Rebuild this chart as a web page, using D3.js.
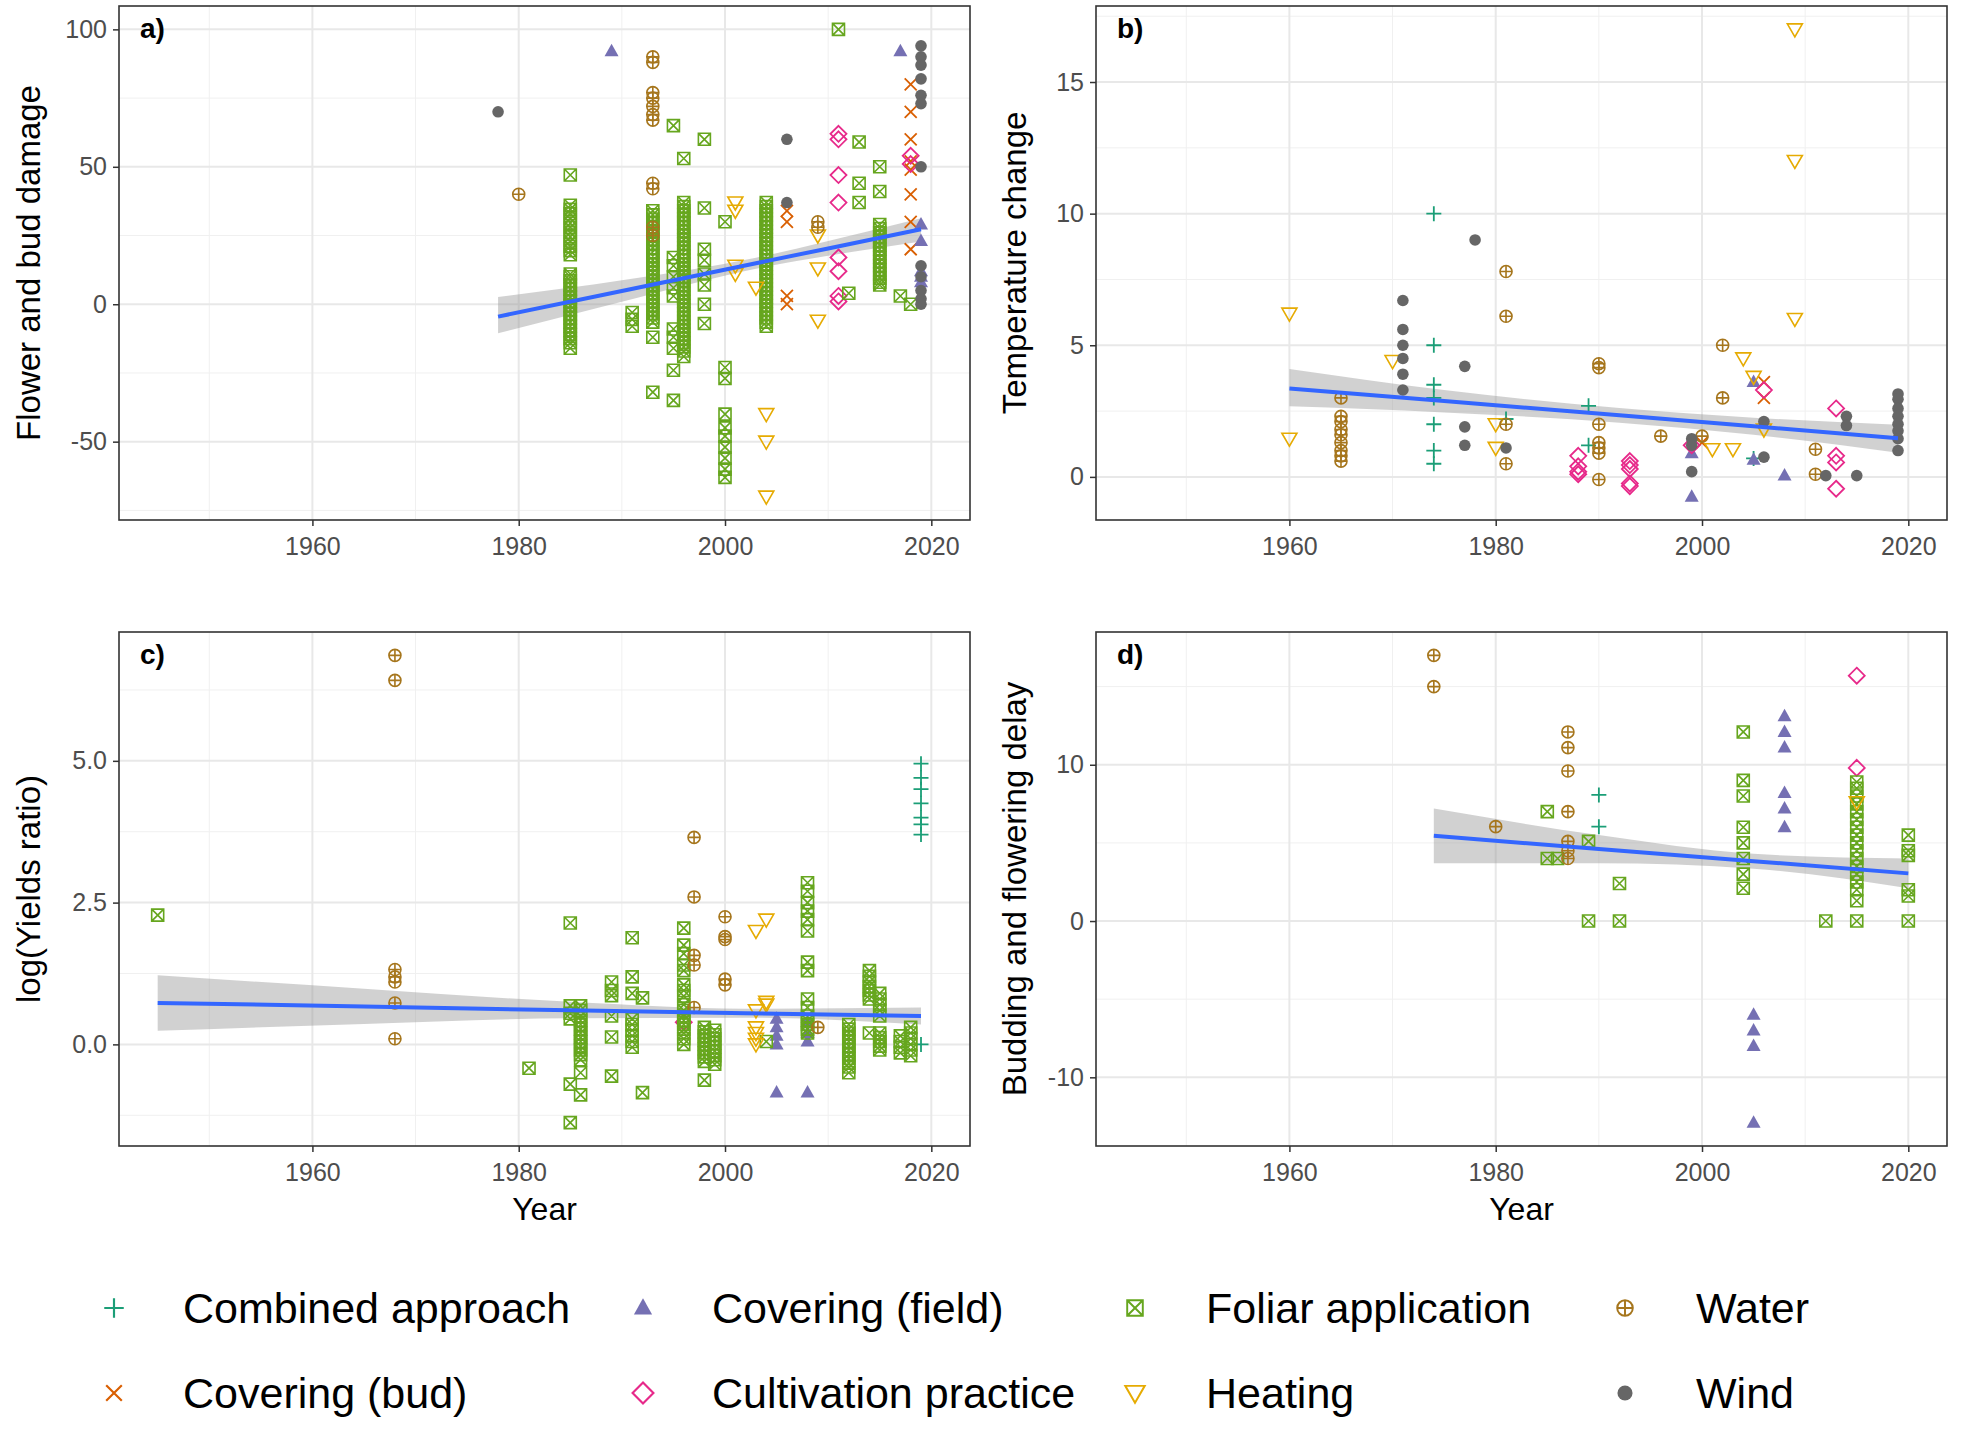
<!DOCTYPE html>
<html><head><meta charset="utf-8">
<script src="https://cdn.jsdelivr.net/npm/d3@7"></script>
<style>
body{margin:0;background:#fff}
svg{display:block}
text{font-family:"Liberation Sans",Arial,Helvetica,sans-serif}
</style>
</head><body>
<svg id="chart" width="1963" height="1433"></svg>
<script>
// ---------- helper for data packaging ----------
function col(year, values){ return values.map(v => [year, v]); }

// ---------- categories / styles ----------
const categories = ["Combined approach","Covering (bud)","Covering (field)","Cultivation practice","Foliar application","Heating","Water","Wind"];
const colors = ["#1b9e77","#d95f02","#7570b3","#e7298a","#66a61e","#e6ab02","#a6761d","#666666"];
const shapes = ["plus","cross","triangle","diamond","squarex","triangledown","circleplus","circle"];

const xTicks = [1960, 1980, 2000, 2020];
const xMinor = [1950, 1970, 1990, 2010];

// ---------- panel a: Flower and bud damage ----------
const aCombined = [];
const aCovBud = [[2006,34],[2006,30],[2006,3],[2006,0],...col(2018,[80,70,60,52,49,40,30,20])];
const aCovField = [[1989,92],[2017,92],...col(2019,[29,23,12,10,8])];
const aCultiv = [...col(2011,[62,60,47,37,17,12,3,1]),...col(2018,[54,51])];
const aFoliar = [
  ...col(1985,[47,36,34.5,33,31,29.5,28,26,24.5,23,21,19.5,18,11,10,8.5,7,5.5,4,2.5,1,-0.5,-2,-3.5,-5,-6.5,-8,-9.5,-11,-12.5,-14,-16]),
  ...col(1991,[-3,-5.5,-8]),
  ...col(1993,[34,32.5,31,29.5,28,26.5,25,23.5,22,20.5,19,17.5,16,14.5,13,11.5,10,8.5,7,5.5,4,2.5,1,-0.5,-2,-3.5,-5,-6.5,-12,-32]),
  ...col(1995,[65,17,14,10,6,3,-9,-12,-16,-24,-35]),
  ...col(1996,[53,37,35.5,34,32.5,31,29.5,28,26.5,25,23.5,22,20.5,19,17.5,16,14.5,13,11.5,10,8.5,7,5.5,4,2.5,1,-0.5,-2,-3.5,-5,-6.5,-8,-9.5,-11,-12.5,-14,-15.5,-17,-19]),
  ...col(1998,[60,35,20,16,11,7,0,-7]),
  ...col(2000,[30,-23,-27,-40,-45,-48,-52,-56,-60,-63]),
  ...col(2004,[37,35.5,34,32.5,31,29.5,28,26.5,25,23.5,22,20.5,19,17.5,16,14.5,13,11.5,10,8.5,7,5.5,4,2.5,1,-0.5,-2,-3.5,-5,-6.5,-8]),
  [2011,100],[2012,4],...col(2013,[59,44,37]),
  ...col(2015,[50,41,29,27.5,26,24.5,23,21.5,20,18.5,17,15.5,14,12.5,11,9.5,8,7]),
  [2017,3],[2018,0]];
const aHeating = [...col(2001,[37,34,14,11]),[2003,6],...col(2004,[-40,-50,-70]),...col(2009,[25,13,-6])];
const aWater = [[1980,40],...col(1993,[90,88,77,75,72,69,67,44,42,28,25]),...col(2009,[30,28])];
const aWind = [[1978,70],...col(2006,[60,37]),...col(2019,[94,90,87,82,76,73,50,14,10,5,2,0])];
const aFit = [[1978,-4.5,-10.6,2.6],[1990,4.8,0.9,8.7],[2003,14.9,12.9,16.9],[2010,20.3,17.6,23.0],[2019,27.3,22.8,31.3]];

// ---------- panel b: Temperature change ----------
const bCombined = [...col(1974,[10,5,3.5,3,2,1,0.5]),[1981,2.2],...col(1989,[2.7,1.2]),[2005,0.7]];
const bCovBud = [...col(2006,[3.6,3.0]),[2000,1.3]];
const bCovField = [...col(1999,[0.9,-0.75]),...col(2005,[3.6,0.65]),[2008,0.05]];
const bCultiv = [...col(1988,[0.8,0.4,0.2,0.1]),...col(1993,[0.6,0.45,0.3,-0.25,-0.35]),[1999,1.2],[2006,3.3],...col(2013,[2.6,0.8,0.55,-0.45])];
const bFoliar = [];
const bHeating = [...col(1960,[6.2,1.45]),[1970,4.4],...col(1980,[2.0,1.1]),[2001,1.05],[2003,1.05],[2004,4.5],[2005,3.8],[2006,1.8],...col(2009,[17,12,6])];
const bWater = [...col(1965,[3.0,2.3,2.1,1.8,1.6,1.3,1.0,0.8,0.6]),...col(1981,[7.8,6.1,2.0,0.5]),...col(1990,[4.3,4.15,2.0,1.3,1.1,0.9,-0.1]),[1996,1.55],[2000,1.55],...col(2002,[5.0,3.0]),...col(2011,[1.05,0.1])];
const bWind = [...col(1971,[6.7,5.6,5.0,4.5,3.9,3.3]),...col(1977,[4.2,1.9,1.2]),[1978,9.0],[1981,1.1],...col(1999,[1.45,1.2,0.2]),...col(2006,[2.1,0.75]),[2012,0.05],...col(2014,[2.3,1.95]),[2015,0.05],...col(2019,[3.15,2.95,2.6,2.3,2.0,1.75,1.45,1.0])];
const bFit = [[1960,3.36,2.68,4.1],[1975,2.88,2.45,3.3],[1992,2.34,2.06,2.62],[2005,1.92,1.6,2.25],[2019,1.47,0.92,1.98]];

// ---------- panel c: log(Yields ratio) ----------
const cCombined = col(2019,[4.95,4.7,4.5,4.25,4.0,3.88,3.7,0]);
const cCovBud = [];
const cCovField = [...col(2005,[0.45,0.3,0.15,0.0,-0.85]),...col(2008,[0.4,0.2,0.05,-0.85])];
const cCultiv = [[1996,0.39]];
const cFoliar = [[1945,2.28],[1981,-0.42],
  ...col(1985,[2.14,0.68,0.55,0.45,-0.7,-1.38]),
  ...col(1986,[0.68,0.6,0.5,0.42,0.35,0.27,0.2,0.12,0.05,-0.03,-0.1,-0.18,-0.27,-0.5,-0.89]),
  ...col(1989,[1.1,0.95,0.86,0.5,0.13,-0.56]),
  ...col(1991,[1.88,1.19,0.9,0.45,0.35,0.25,0.15,0.05,-0.05]),
  ...col(1992,[0.82,-0.85]),
  ...col(1996,[2.05,1.75,1.6,1.4,1.3,1.05,0.95,0.85,0.7,0.6,0.5,0.42,0.35,0.27,0.2,0.1,0.0]),
  ...col(1998,[0.3,0.22,0.15,0.07,0.0,-0.08,-0.15,-0.22,-0.3,-0.63]),
  ...col(1999,[0.25,0.17,0.1,0.02,-0.05,-0.12,-0.2,-0.27,-0.35]),
  [2004,0.05],
  ...col(2008,[2.85,2.7,2.5,2.35,2.2,2.0,1.45,1.3,0.8,0.65,0.5,0.42,0.35,0.27,0.2]),
  ...col(2012,[0.35,0.27,0.2,0.12,0.05,-0.03,-0.1,-0.18,-0.25,-0.33,-0.4,-0.5]),
  ...col(2014,[1.3,1.2,1.1,1.02,0.95,0.87,0.8,0.2]),
  ...col(2015,[0.9,0.8,0.7,0.6,0.5,0.2,0.12,0.05,-0.03,-0.1]),
  ...col(2017,[0.15,0.05,-0.05,-0.15]),
  ...col(2018,[0.3,0.2,0.1,0.0,-0.1,-0.2])];
const cHeating = [...col(2003,[2.0,0.6,0.3,0.2,0.1,0.0]),...col(2004,[2.2,0.75,0.7])];
const cWater = [...col(1968,[6.86,6.42,1.32,1.19,1.1,0.73,0.1]),...col(1997,[3.65,2.6,1.57,1.4,0.65]),...col(2000,[2.25,1.9,1.85,1.15,1.05]),[2009,0.3]];
const cWind = [];
const cFit = [[1945,0.73,0.24,1.22],[1965,0.67,0.36,0.98],[1985,0.60,0.46,0.75],[2002,0.55,0.47,0.63],[2019,0.50,0.35,0.65]];

// ---------- panel d: Budding and flowering delay ----------
const dCombined = col(1990,[8.07,6.04]);
const dCovBud = [];
const dCovField = [...col(2005,[-6,-7,-8,-12.9]),...col(2008,[13.1,12.1,11.1,8.2,7.2,6.0])];
const dCultiv = col(2015,[15.7,9.8]);
const dFoliar = [...col(1985,[7,4]),[1986,4],...col(1989,[5.1,0]),...col(1992,[2.4,0]),
  ...col(2004,[12.1,9,8,6,5,4,3,2.1]),[2012,0],
  ...col(2015,[8.9,8.5,8,7.5,7,6.5,6,5.5,5,4.5,4,3.5,3,2.5,2,1.3,0]),
  ...col(2020,[5.5,4.5,4.2,2,1.6,0])];
const dHeating = [[2015,7.6]];
const dWater = [...col(1974,[17,15]),[1980,6.04],...col(1987,[12.1,11.1,9.6,7,5.1,4.5,4])];
const dWind = [];
const dFit = [[1974,5.45,3.7,7.2],[1990,4.61,3.7,5.5],[2005,3.83,3.35,4.3],[2020,3.05,2.1,4.0]];

// ---------- layout ----------
const fmtInt = d => String(d);
const panels = [
  {label:"a)", x0:119, x1:970, y0:6, y1:520, title:"Flower and bud damage", titleX:40,
   yTicks:[-50,0,50,100], yMinor:[-75,-25,25,75], fmt:fmtInt, xTitle:false,
   series:[aCombined,aCovBud,aCovField,aCultiv,aFoliar,aHeating,aWater,aWind], fit:aFit},
  {label:"b)", x0:1096, x1:1947, y0:6, y1:520, title:"Temperature change", titleX:1026,
   yTicks:[0,5,10,15], yMinor:[2.5,7.5,12.5,17.5], fmt:fmtInt, xTitle:false,
   series:[bCombined,bCovBud,bCovField,bCultiv,bFoliar,bHeating,bWater,bWind], fit:bFit},
  {label:"c)", x0:119, x1:970, y0:632, y1:1146, title:"log(Yields ratio)", titleX:40,
   yTicks:[0,2.5,5], yMinor:[-1.25,1.25,3.75,6.25], fmt:d => d.toFixed(1), xTitle:true,
   series:[cCombined,cCovBud,cCovField,cCultiv,cFoliar,cHeating,cWater,cWind], fit:cFit},
  {label:"d)", x0:1096, x1:1947, y0:632, y1:1146, title:"Budding and flowering delay", titleX:1026,
   yTicks:[-10,0,10], yMinor:[-5,5,15], fmt:fmtInt, xTitle:true,
   series:[dCombined,dCovBud,dCovField,dCultiv,dFoliar,dHeating,dWater,dWind], fit:dFit}
];

const svg = d3.select("#chart");
svg.append("rect").attr("width",1963).attr("height",1433).attr("fill","#fff");

function marker(g, shape, color, k){
  const s = k || 1;
  const sw = 1.8 * Math.min(s, 1.2);
  switch(shape){
    case "plus":
      g.append("path").attr("d",`M${-7.5*s},0H${7.5*s}M0,${-7.5*s}V${7.5*s}`).attr("stroke",color).attr("stroke-width",sw).attr("fill","none"); break;
    case "cross":
      g.append("path").attr("d",`M${-6*s},${-6*s}L${6*s},${6*s}M${-6*s},${6*s}L${6*s},${-6*s}`).attr("stroke",color).attr("stroke-width",sw).attr("fill","none"); break;
    case "triangle":
      g.append("path").attr("d",`M0,${-7.5*s}L${7*s},${5*s}L${-7*s},${5*s}Z`).attr("fill",color); break;
    case "diamond":
      g.append("path").attr("d",`M0,${-8*s}L${8*s},0L0,${8*s}L${-8*s},0Z`).attr("stroke",color).attr("stroke-width",sw).attr("fill","none"); break;
    case "squarex":
      g.append("path").attr("d",`M${-6*s},${-6*s}H${6*s}V${6*s}H${-6*s}ZM${-6*s},${-6*s}L${6*s},${6*s}M${-6*s},${6*s}L${6*s},${-6*s}`).attr("stroke",color).attr("stroke-width",sw*0.9).attr("fill","none"); break;
    case "triangledown":
      g.append("path").attr("d",`M${-7.5*s},${-5.5*s}L${7.5*s},${-5.5*s}L0,${7.5*s}Z`).attr("stroke",color).attr("stroke-width",sw*0.9).attr("fill","none"); break;
    case "circleplus":
      g.append("circle").attr("r",6*s).attr("stroke",color).attr("stroke-width",sw*0.9).attr("fill","none");
      g.append("path").attr("d",`M${-6*s},0H${6*s}M0,${-6*s}V${6*s}`).attr("stroke",color).attr("stroke-width",sw*0.9); break;
    case "circle":
      g.append("circle").attr("r",5.8*s).attr("fill",color); break;
  }
}

const xDataExt = [1945, 2020];
const xPad = (xDataExt[1]-xDataExt[0])*0.05;

panels.forEach(p => {
  const x = d3.scaleLinear().domain([xDataExt[0]-xPad, xDataExt[1]+xPad]).range([p.x0, p.x1]);
  const allVals = [];
  p.series.forEach(s => s.forEach(d => allVals.push(d[1])));
  p.fit.forEach(f => { allVals.push(f[2]); allVals.push(f[3]); });
  const ext = d3.extent(allVals);
  const yPad = (ext[1]-ext[0])*0.05;
  const y = d3.scaleLinear().domain([ext[0]-yPad, ext[1]+yPad]).range([p.y1, p.y0]);

  const g = svg.append("g");
  g.append("rect").attr("x",p.x0).attr("y",p.y0).attr("width",p.x1-p.x0).attr("height",p.y1-p.y0).attr("fill","#fff");
  // minor grid
  g.selectAll(null).data(xMinor).enter().append("line")
    .attr("x1",d=>x(d)).attr("x2",d=>x(d)).attr("y1",p.y0).attr("y2",p.y1)
    .attr("stroke","#f0f0f0").attr("stroke-width",1);
  g.selectAll(null).data(p.yMinor.filter(v=>y(v)>p.y0 && y(v)<p.y1)).enter().append("line")
    .attr("x1",p.x0).attr("x2",p.x1).attr("y1",d=>y(d)).attr("y2",d=>y(d))
    .attr("stroke","#f0f0f0").attr("stroke-width",1);
  // major grid
  g.selectAll(null).data(xTicks).enter().append("line")
    .attr("x1",d=>x(d)).attr("x2",d=>x(d)).attr("y1",p.y0).attr("y2",p.y1)
    .attr("stroke","#e8e8e8").attr("stroke-width",2);
  g.selectAll(null).data(p.yTicks).enter().append("line")
    .attr("x1",p.x0).attr("x2",p.x1).attr("y1",d=>y(d)).attr("y2",d=>y(d))
    .attr("stroke","#e8e8e8").attr("stroke-width",2);

  // confidence ribbon
  const area = d3.area().x(d=>x(d[0])).y0(d=>y(d[2])).y1(d=>y(d[3])).curve(d3.curveMonotoneX);
  g.append("path").datum(p.fit).attr("d",area).attr("fill","#999999").attr("fill-opacity",0.45);

  // points
  p.series.forEach((s, i) => {
    s.forEach(d => {
      const m = g.append("g").attr("transform",`translate(${x(d[0])},${y(d[1])})`);
      marker(m, shapes[i], colors[i], 1);
    });
  });

  // fit line
  const line = d3.line().x(d=>x(d[0])).y(d=>y(d[1]));
  g.append("path").datum(p.fit).attr("d",line).attr("fill","none").attr("stroke","#3366FF").attr("stroke-width",4);

  // border
  g.append("rect").attr("x",p.x0).attr("y",p.y0).attr("width",p.x1-p.x0).attr("height",p.y1-p.y0)
    .attr("fill","none").attr("stroke","#333333").attr("stroke-width",1.6);

  // x axis
  const xa = g.append("g").attr("transform",`translate(0,${p.y1})`)
    .call(d3.axisBottom(x).tickValues(xTicks).tickFormat(fmtInt).tickSize(6).tickPadding(11));
  xa.select(".domain").remove();
  xa.selectAll(".tick line").attr("stroke","#333333").attr("stroke-width",1.5);
  xa.selectAll(".tick text").attr("fill","#4d4d4d").attr("font-size",25).attr("font-family",'"Liberation Sans",Arial,sans-serif');

  // y axis
  const ya = g.append("g").attr("transform",`translate(${p.x0},0)`)
    .call(d3.axisLeft(y).tickValues(p.yTicks).tickFormat(p.fmt).tickSize(6).tickPadding(6));
  ya.select(".domain").remove();
  ya.selectAll(".tick line").attr("stroke","#333333").attr("stroke-width",1.5);
  ya.selectAll(".tick text").attr("fill","#4d4d4d").attr("font-size",25).attr("font-family",'"Liberation Sans",Arial,sans-serif');

  // y title
  svg.append("text").attr("transform",`translate(${p.titleX},${(p.y0+p.y1)/2}) rotate(-90)`)
    .attr("text-anchor","middle").attr("font-size",33).attr("fill","#000").text(p.title);

  // x title
  if (p.xTitle){
    svg.append("text").attr("x",(p.x0+p.x1)/2).attr("y",p.y1+74).attr("text-anchor","middle")
      .attr("font-size",32).attr("fill","#000").text("Year");
  }

  // panel label
  svg.append("text").attr("x",p.x0+21).attr("y",p.y0+32).attr("font-size",28).attr("font-weight","bold")
    .attr("fill","#000").text(p.label);
});

// ---------- legend ----------
const legSymX = [114, 643, 1135, 1625];
const legTextX = [183, 712, 1206, 1696];
const legRowY = [1308, 1393];
categories.forEach((c, i) => {
  const colI = Math.floor(i/2), rowI = i % 2;
  const m = svg.append("g").attr("transform",`translate(${legSymX[colI]},${legRowY[rowI]})`);
  marker(m, shapes[i], colors[i], 1.3);
  svg.append("text").attr("x",legTextX[colI]).attr("y",legRowY[rowI]+15)
    .attr("font-size",43).attr("fill","#000").text(c);
});
</script>
</body></html>
